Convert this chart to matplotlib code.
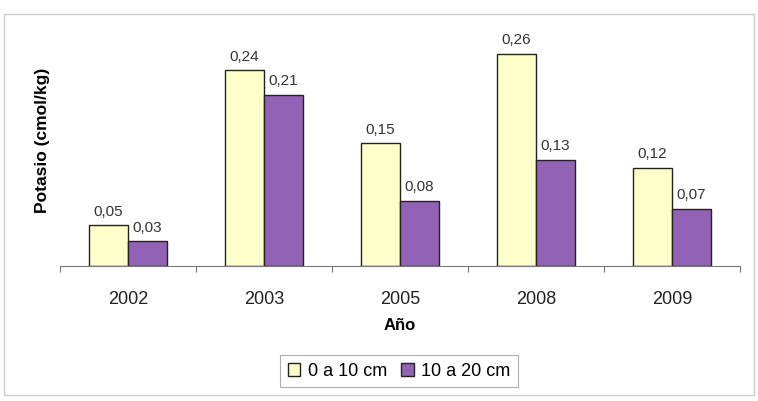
import matplotlib
matplotlib.use("Agg")
import matplotlib.pyplot as plt
import numpy as np
from matplotlib.patches import Rectangle

years = ["2002", "2003", "2005", "2008", "2009"]
serie_0_10 = [0.05, 0.24, 0.15, 0.26, 0.12]
serie_10_20 = [0.03, 0.21, 0.08, 0.13, 0.07]
labels = ["0 a 10 cm", "10 a 20 cm"]

plt.rcParams['font.family'] = ['Liberation Sans', 'DejaVu Sans']

fig = plt.figure(figsize=(7.58, 4.01), dpi=100)
fig.patch.set_facecolor("white")
ax = fig.add_axes([0.079, 0.337, 0.897, 0.59])

x = np.arange(len(years))
w = 0.287
b1 = ax.bar(x - w/2, serie_0_10, w, color="#FFFFCC", edgecolor="#222222", linewidth=1.0, label=labels[0])
b2 = ax.bar(x + w/2, serie_10_20, w, color="#9262B4", edgecolor="#222222", linewidth=1.0, label=labels[1])

for bars, vals in ((b1, serie_0_10), (b2, serie_10_20)):
    for r, v in zip(bars, vals):
        ax.text(r.get_x() + r.get_width()/2, v + 0.008, f"{v:.2f}".replace(".", ","),
                ha="center", va="bottom", fontsize=11, color="#333333")

ax.set_xlim(-0.5, len(years) - 0.5)
ax.set_ylim(0, 0.29)
ax.set_yticks([])
for s in ("top", "right", "left"):
    ax.spines[s].set_visible(False)
ax.spines["bottom"].set_color("#777777")
ax.set_xticks(np.arange(-0.5, len(years) + 0.5, 1.0))
ax.set_xticklabels([])
ax.set_xticks(x, minor=True)
ax.set_xticklabels(years, minor=True, fontsize=13, color="#222222")
ax.tick_params(axis="x", which="major", length=4, color="#777777", direction="out")
ax.tick_params(axis="x", which="minor", length=0, pad=18)
ax.set_xlabel("Año", fontsize=12, fontweight="bold", labelpad=7)
ax.set_ylabel("Potasio (cmol/kg)", fontsize=12.5, fontweight="bold", va="center")
ax.yaxis.set_label_coords(-0.025, 0.53)

leg = fig.legend(loc="center", bbox_to_anchor=(399/758, 1 - 371/401), ncol=2,
                 fontsize=13, frameon=True, fancybox=False, edgecolor="#999999",
                 handlelength=0.7, handleheight=0.7, handletextpad=0.4, columnspacing=0.8,
                 borderpad=0.4, borderaxespad=0.0)
leg.get_frame().set_linewidth(0.8)

fig.patches.append(Rectangle((0.005, 0.015), 0.99, 0.95, transform=fig.transFigure,
                             fill=False, edgecolor="#CCCCCC", linewidth=1.0))

fig.savefig("out.png", dpi=100)
